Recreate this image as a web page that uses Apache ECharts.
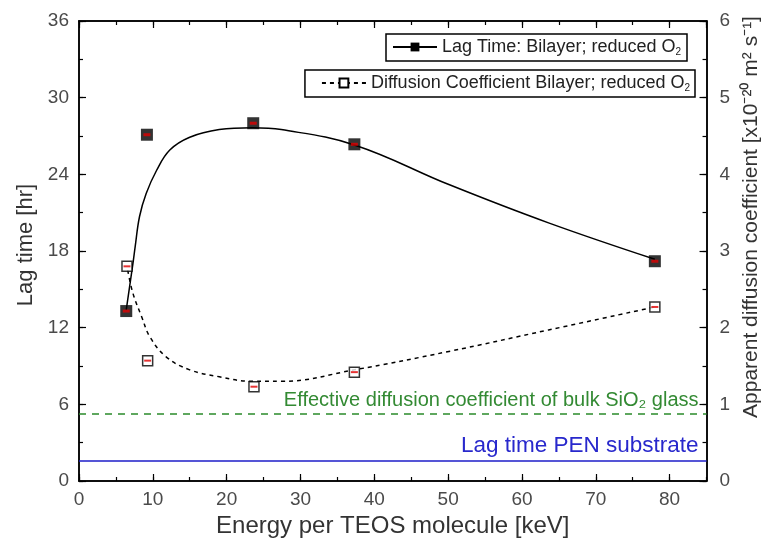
<!DOCTYPE html>
<html>
<head>
<meta charset="utf-8">
<script src="https://cdn.jsdelivr.net/npm/echarts@6/dist/echarts.min.js"></script>
<style>
  html, body { margin: 0; background: #fff; }
  #chart { width: 770px; height: 548px; }
</style>
</head>
<body>
<div id="chart"></div>
<script>
// measured points [energy keV, value]
var lagPoints = [[6.4, 13.3], [9.2, 27.1], [23.6, 28.0], [37.3, 26.35], [78, 17.2]]
var diffPoints = [[6.5, 2.8], [9.3, 1.57], [23.7, 1.23], [37.3, 1.42], [78, 2.27]]

// guide curves
var lagCurve = [[6.4, 13.4], [7.3, 17.0], [7.6, 18.3], [8.2, 20.7], [9.1, 22.5], [10.5, 24.3],
  [12.3, 25.9], [15.0, 26.9], [19.0, 27.5], [23.5, 27.65], [27.4, 27.5], [37.3, 26.3],
  [50.1, 23.2], [63.6, 20.2], [78, 17.35]]
var diffCurve = [[6.6, 2.75], [7.3, 2.45], [8.5, 2.14], [9.6, 1.88], [11.8, 1.62], [15.0, 1.45],
  [19.0, 1.36], [23.5, 1.3], [27.4, 1.3], [37.3, 1.45], [50.1, 1.69], [63.6, 1.97], [78, 2.27]]

// reference levels
var penLagTime = 1.6
var bulkSiO2Diff = 0.88

var lagName = 'Lag Time: Bilayer; reduced O2'
var diffName = 'Diffusion Coefficient Bilayer; reduced O2'

var chart = echarts.init(document.getElementById('chart'))

var font = 'Liberation Sans, Arial, sans-serif'
var axisLine = { show: true, onZero: false, lineStyle: { color: '#000', width: 1.5 } }
var tickStyle = { color: '#000', width: 1.2 }
var tickLabel = { color: '#4a4a4a', fontSize: 19, fontFamily: font }

function xAx(pos, step, len, labels) {
  return {
    type: 'value', position: pos, min: 0, max: 85, interval: step,
    axisLine: axisLine,
    axisTick: { inside: true, length: len, lineStyle: tickStyle },
    axisLabel: Object.assign({ show: labels, margin: 9, showMaxLabel: false }, tickLabel),
    splitLine: { show: false }
  }
}

function yAx(pos, max, step, len, labels) {
  return {
    type: 'value', position: pos, min: 0, max: max, interval: step,
    axisLine: axisLine,
    axisTick: { inside: true, length: len, lineStyle: tickStyle },
    axisLabel: Object.assign({ show: labels, margin: pos === 'left' ? 10 : 13 }, tickLabel),
    splitLine: { show: false }
  }
}

var xBottom = xAx('bottom', 10, 7, true)
xBottom.name = 'Energy per TEOS molecule [keV]'
xBottom.nameLocation = 'middle'
xBottom.nameGap = 33
xBottom.nameTextStyle = { color: '#333', fontSize: 24, fontFamily: font }

var yLeft = yAx('left', 36, 6, 7, true)
yLeft.name = 'Lag time [hr]'
yLeft.nameLocation = 'middle'
yLeft.nameGap = 39
yLeft.nameRotate = 90
yLeft.nameTextStyle = { color: '#333', fontSize: 22, fontFamily: font, padding: [0, 0, 0, 12] }

var yRight = yAx('right', 6, 1, 7, true)
yRight.name = 'Apparent diffusion coefficient [x10⁻²⁰ m² s⁻¹]'
yRight.nameLocation = 'middle'
yRight.nameGap = 33
yRight.nameRotate = 90
yRight.nameTextStyle = { color: '#333', fontSize: 21, fontFamily: font, padding: [0, 0, 0, 68] }

function legendFmt(name) {
  return name.replace(/O2$/, 'O{s|2}')
}
var legendText = {
  color: '#222', fontSize: 18, fontFamily: font,
  rich: { s: { fontSize: 10, color: '#222', fontFamily: font, padding: [10, 0, 0, 0] } }
}

chart.setOption({
  animation: false,
  grid: { left: 79, right: 62, top: 21, bottom: 67 },
  legend: [{
    data: [lagName], right: 83, top: 34,
    borderColor: '#000', borderWidth: 1.5, padding: [4, 6, 4, 6],
    itemWidth: 44, itemHeight: 11, itemGap: 6, formatter: legendFmt, textStyle: legendText
  }, {
    data: [diffName], right: 75, top: 70,
    borderColor: '#000', borderWidth: 1.5, padding: [4, 5, 4, 16],
    itemWidth: 44, itemHeight: 11, formatter: legendFmt, textStyle: legendText
  }],
  // extra axes only carry the short minor ticks
  xAxis: [xBottom, xAx('bottom', 5, 4, false), xAx('top', 10, 7, false), xAx('top', 5, 4, false)],
  yAxis: [yLeft, yRight, yAx('left', 36, 3, 4, false), yAx('right', 6, 0.5, 4, false)],
  series: [{
    name: lagName, type: 'line', data: lagCurve, smooth: 0.4,
    showSymbol: false, symbol: 'rect', symbolSize: 10,
    itemStyle: { color: '#000' },
    lineStyle: { color: '#000', width: 1.5 },
    markLine: {
      silent: true, symbol: 'none',
      lineStyle: { color: '#1c1cc8', width: 1.5, type: 'solid' },
      label: { position: 'insideEndTop', formatter: 'Lag time PEN substrate', color: '#2828cc',
        fontSize: 22.5, fontFamily: font, distance: [8, 3] },
      data: [{ yAxis: penLagTime }]
    }
  }, {
    name: diffName, type: 'line', yAxisIndex: 1, data: diffCurve, smooth: 0.4,
    showSymbol: false, symbol: 'rect', symbolSize: 9,
    itemStyle: { color: '#fff', borderColor: '#000', borderWidth: 1.5 },
    lineStyle: { color: '#000', width: 1.5, type: [4, 4] },
    markLine: {
      silent: true, symbol: 'none',
      lineStyle: { color: '#2a8a2a', width: 1.5, type: [7, 6] },
      label: { position: 'insideEndTop', formatter: 'Effective diffusion coefficient of bulk SiO₂ glass',
        color: '#338a33', fontSize: 20, fontFamily: font, distance: [8, 3] },
      data: [{ yAxis: bulkSiO2Diff }]
    }
  }, {
    name: 'lagMarks', type: 'scatter', data: lagPoints, symbol: 'rect', symbolSize: 12,
    itemStyle: { color: '#000' }, z: 5
  }, {
    name: 'lagBars', type: 'scatter', data: lagPoints, symbol: 'rect', symbolSize: [7, 3],
    itemStyle: { color: '#e00000' }, z: 6
  }, {
    name: 'diffMarks', type: 'scatter', yAxisIndex: 1, data: diffPoints, symbol: 'rect', symbolSize: 10,
    itemStyle: { color: '#fff', borderColor: '#000', borderWidth: 1.5 }, z: 5
  }, {
    name: 'diffBars', type: 'scatter', yAxisIndex: 1, data: diffPoints, symbol: 'rect', symbolSize: [7, 2],
    itemStyle: { color: '#e00000' }, z: 6
  }]
})
</script>
</body>
</html>
